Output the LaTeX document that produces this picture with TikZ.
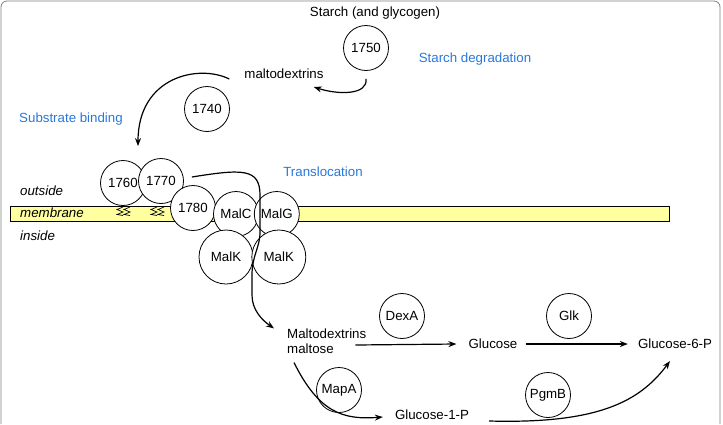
\documentclass[tikz,border=0pt]{standalone}
\usepackage{fontspec}
\setmainfont{Liberation Sans}
\usepackage{tikz}
\usetikzlibrary{positioning}
\usetikzlibrary{arrows.meta}

\definecolor{procblue}{RGB}{40,120,220}
\definecolor{membr}{RGB}{255,255,160}

\begin{document}
\begin{tikzpicture}[x=1pt, y=-1pt,
    >={Stealth[length=8pt,width=6pt]},
    every node/.style={font=\fontsize{13.3}{15}\selectfont, inner sep=0pt},
    enzyme/.style={draw, circle, fill=white, line width=0.8pt, minimum size=45pt},
    bigenzyme/.style={enzyme, minimum size=54pt},
    process/.style={text=procblue},
    side/.style={anchor=west, font=\fontsize{13.3}{15}\selectfont\itshape},
    flow/.style={->, line width=1.2pt},
    ]

    \useasboundingbox (0,0) rectangle (723,424);
    \draw[gray, line width=0.8pt, rounded corners=6pt] (1,424) -- (1,1) -- (720,1) -- (720,424);

    % membrane
    \draw[fill=membr, line width=0.7pt] (10,206) rectangle (669,221);
    \foreach \zx in {117,151}
      \foreach \dz in {0,7}
        \draw[line width=0.7pt] (\zx+\dz+6,207) -- (\zx+\dz,209.5) -- (\zx+\dz+6,212) -- (\zx+\dz,214.5) -- (\zx+\dz+6,215.5);

    \node[side] (outside) at (20,191) {outside};
    \node[side] (membrane) at (20,213) {membrane};
    \node[side] (inside) at (20,236) {inside};

    % outside
    \node (starch) at (375,13) {Starch (and glycogen)};
    \node[enzyme] (c1750) at (366,48) {1750};
    \node[process] (lbldeg) at (475,59) {Starch degradation};
    \node (malto) at (284,74) {maltodextrins};
    \node[enzyme] (c1740) at (207,109) {1740};
    \node[process] (lblbind) at (71,119) {Substrate binding};
    \node[process] (lbltrans) at (323,172) {Translocation};

    % transporter
    \node[enzyme] (c1760) at (123,183) {1760};
    \node[enzyme] (c1770) at (161,181) {1770};
    \node[enzyme] (c1780) at (193,208) {1780};
    \node[enzyme] (malc) at (236,214) {MalC};
    \node[enzyme, right=-5pt of malc] (malg) {MalG};
    \node[bigenzyme] (malka) at (226,257) {MalK};
    \node[bigenzyme, right=-2pt of malka] (malkb) {MalK};

    % inside
    \node[anchor=west, align=left] (maltose) at (287,341) {Maltodextrins\\maltose};
    \node[enzyme] (dexa) at (402,316) {DexA};
    \node (glucose) at (493,344) {Glucose};
    \node[enzyme] (glk) at (569,316) {Glk};
    \node (g6p) at (675,344) {Glucose-6-P};
    \node[enzyme] (mapa) at (339,390) {MapA};
    \node (g1p) at (432,415) {Glucose-1-P};
    \node[enzyme] (pgmb) at (548,395) {PgmB};

    \draw[flow] ([yshift=-8pt]c1750.south) .. controls +(2,16) and +(25,8) .. ([shift={(-10pt,-13pt)}]malto.east);
    \draw[flow] ([shift={(-15pt,-5pt)}]malto.west) .. controls +(-30,-15) and +(0,-70) .. ([shift={(15pt,14pt)}]c1760.north);
    \draw[flow] ([shift={(8pt,4pt)}]c1770.east) .. controls +(50,-8) and (260,168) .. (260,195) -- (260,232)
        .. controls (260,248) and (252,255) .. (252,275) -- (252,295)
        .. controls (252,310) and (262,320) .. ([xshift=-13pt]maltose.north west);
    \draw[flow] ([shift={(-11pt,-4pt)}]maltose.east) -- ([xshift=-12pt]glucose.west);
    \draw[flow] ([xshift=8pt]glucose.east) -- ([xshift=-10pt]g6p.west);
    \draw[flow] ([shift={(7pt,-9pt)}]maltose.south west) .. controls +(25,50) and +(-40,3) .. ([shift={(-12pt,-2pt)}]g1p.west);
    \draw[flow] ([shift={(20pt,-6pt)}]g1p.east) .. controls +(110,3) and +(-30,40) .. ([shift={(-5pt,-12pt)}]g6p.south);
\end{tikzpicture}
\end{document}
